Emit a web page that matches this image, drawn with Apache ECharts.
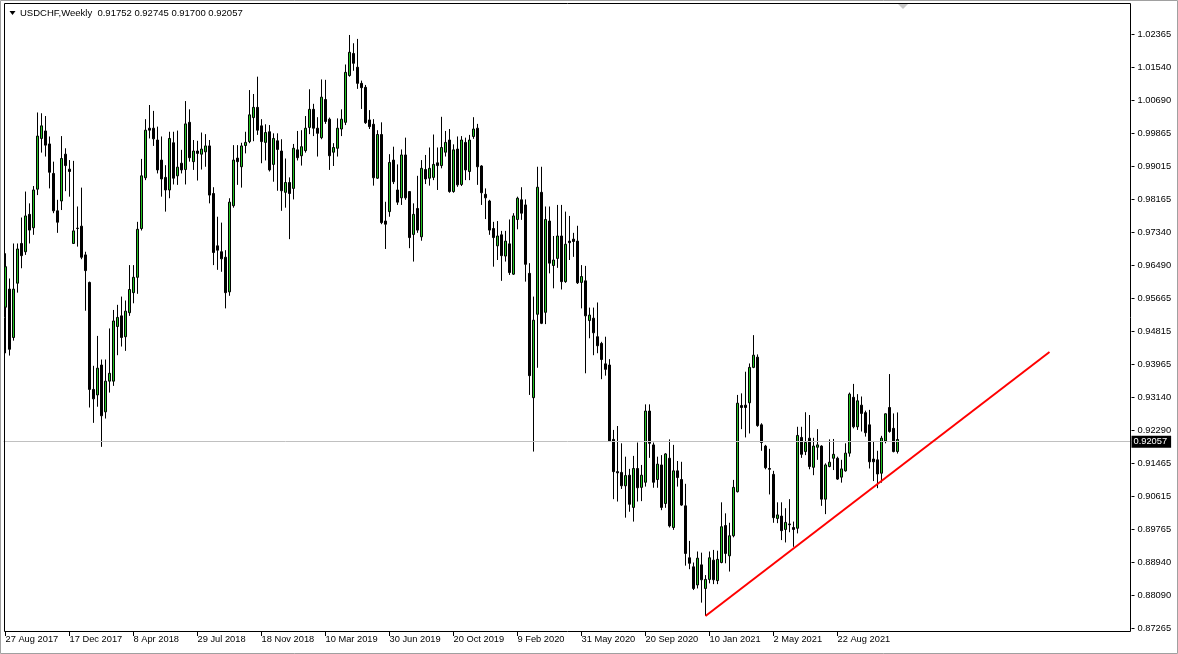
<!DOCTYPE html>
<html>
<head>
<meta charset="utf-8">
<script src="https://cdn.jsdelivr.net/npm/echarts@6/dist/echarts.min.js"></script>
<style>
html,body{margin:0;padding:0;background:#fff;}
#c{width:1178px;height:654px;}
</style>
</head>
<body>
<div id="c"></div>
<script>
// ---- data ----
const symbolName = 'USDCHF,Weekly';
const startDate = [2017, 7, 27]; // 27 Aug 2017, weekly bars
const totalSlots = 282;          // bars + empty future space
const opens = [
.9542,.9588,.9465,.9603,.9704,.9683,.9778,.9744,.9842,.9971,.9990,.9957,.9882,.9787,.9812,.9931,.9893,.9704,.9742,.9748,
.9675,.9605,.9333,.9319,.9395,.9276,.9354,.9354,.9493,.9520,.9467,.9528,.9579,.9618,.9742,.9871,.9997,.9997,.9967,.9916,
.9872,.9840,.9960,.9876,.9908,.9892,1.0012,.9912,.9939,.9931,.9937,.9952,.9831,.9698,.9683,.9669,.9581,.9800,.9921,.9899,
.9953,.9963,1.0024,1.0050,1.0003,.9961,.9988,.9905,.9965,.9939,.9834,.9859,.9844,.9942,.9927,.9940,.9999,1.0045,.9997,.9973,
1.0070,1.0020,.9936,.9946,.9995,1.0012,1.0131,1.0187,1.0152,1.0111,1.0101,1.0018,1.0007,.9870,.9981,.9761,.9785,.9916,.9840,.9820,
.9929,.9836,.9727,.9793,.9721,.9892,.9870,.9872,.9909,.9902,.9936,.9967,.9836,.9944,.9854,.9961,.9887,.9976,.9997,.9901,
.9829,.9812,.9742,.9698,.9726,.9672,.9703,.9626,.9765,.9815,.9802,.9628,.9312,.9524,.9834,.9529,.9761,.9648,.9666,.9723,
.9607,.9710,.9715,.9710,.9605,.9609,.9508,.9514,.9467,.9450,.9398,.9395,.9206,.9124,.9122,.9088,.9115,.9033,.9132,.9084,
.9097,.9278,.9192,.9104,.9141,.9043,.9158,.8982,.9126,.9104,.9037,.8905,.8882,.8836,.8887,.8827,.8850,.8899,.8847,.8893,
.8987,.8910,.8961,.9073,.9292,.9293,.9299,.9389,.9415,.9243,.9189,.9132,.9117,.9005,.9011,.8977,.8991,.8982,.8980,.9211,
.9175,.9209,.9135,.9186,.9189,.9054,.9137,.9158,.9158,.9110,.9126,.9171,.9313,.9238,.9293,.9274,.9243,.9156,.9154,.9120,
.9202,.9287,.9234,.91752];
const highs = [
.9679,.9615,.9704,.9704,.9770,.9836,.9806,.9850,1.0037,1.0035,1.0028,.9976,.9912,.9815,.9977,.9946,.9916,.9914,.9798,.9846,
.9683,.9607,.9393,.9469,.9409,.9409,.9488,.9535,.9548,.9569,.9559,.9649,.9649,.9759,.9919,1.0020,1.0056,1.0041,1.0001,.9976,
.9903,.9988,.9988,.9991,.9942,1.0066,1.0045,.9967,.9965,.9986,.9982,.9967,.9847,.9772,.9757,.9687,.9819,.9954,.9954,.9960,
.9988,1.0094,1.0084,1.0128,1.0020,1.0007,1.0005,.9984,.9984,.9969,.9920,.9872,.9957,.9990,.9992,1.0028,1.0096,1.0059,1.0025,1.0121,
1.0120,1.0024,.9959,1.0022,1.0045,1.0159,1.0234,1.0213,1.0224,1.0118,1.0107,1.0043,1.0020,.9992,1.0012,.9810,.9931,.9950,.9905,.9943,
.9973,.9837,.9806,.9876,.9916,.9929,.9948,.9981,.9948,1.0026,.9990,.9995,.9956,.9976,.9977,.9973,.9980,1.0025,1.0008,.9903,
.9844,.9815,.9759,.9761,.9736,.9736,.9765,.9781,.9823,.9847,.9816,.9654,.9569,.9899,.9899,.9798,.9798,.9723,.9802,.9802,
.9785,.9774,.9731,.9749,.9649,.9647,.9541,.9541,.9554,.9454,.9467,.9410,.9230,.9240,.9196,.9162,.9131,.9164,.9198,.9141,
.9295,.9295,.9198,.9162,.9166,.9171,.9206,.9192,.9151,.9149,.9093,.8948,.8893,.8921,.8918,.8861,.8921,.8925,.8923,.9046,
.9018,.8994,.9103,.9319,.9323,.9378,.9399,.9471,.9422,.9247,.9192,.9182,.9126,.9046,.9046,.9031,.9054,.8997,.9238,.9238,
.9275,.9268,.9210,.9232,.9191,.9145,.9206,.9207,.9162,.9154,.9196,.9325,.9347,.9321,.9315,.9279,.9281,.9202,.9177,.9215,
.9272,.9372,.9272,.92745];
const lows = [
.9425,.9419,.9457,.9579,.9641,.9675,.9704,.9726,.9827,.9935,.9925,.9844,.9781,.9731,.9789,.9837,.9823,.9703,.9696,.9664,
.9533,.9287,.9248,.9289,.9187,.9259,.9325,.9342,.9420,.9442,.9431,.9520,.9552,.9576,.9737,.9865,.9971,.9952,.9882,.9823,
.9785,.9819,.9854,.9853,.9882,.9854,.9912,.9891,.9864,.9892,.9899,.9806,.9649,.9637,.9632,.9539,.9571,.9795,.9853,.9846,
.9933,.9959,.9964,.9980,.9908,.9915,.9887,.9861,.9838,.9787,.9795,.9715,.9816,.9915,.9902,.9935,.9982,.9977,.9925,.9969,
1.0008,.9891,.9901,.9925,.9977,1.0005,1.0128,1.0143,1.0097,1.0046,1.0008,.9995,.9851,.9868,.9753,.9690,.9772,.9855,.9802,.9802,
.9815,.9692,.9658,.9731,.9711,.9855,.9851,.9865,.9840,.9895,.9925,.9833,.9833,.9848,.9850,.9865,.9865,.9970,.9853,.9802,
.9766,.9726,.9645,.9662,.9609,.9658,.9624,.9624,.9740,.9764,.9607,.9319,.9175,.9388,.9499,.9499,.9628,.9590,.9642,.9587,
.9604,.9662,.9670,.9601,.9539,.9374,.9463,.9420,.9425,.9359,.9368,.9200,.9054,.9048,.9080,.9007,.9022,.8997,.9048,.9049,
.9086,.9159,.9083,.9083,.9026,.9032,.8982,.8976,.9086,.9037,.8885,.8876,.8823,.8827,.8791,.8757,.8840,.8838,.8838,.8891,
.8891,.8870,.8957,.9071,.9232,.9211,.9221,.9387,.9238,.9177,.9130,.9066,.8994,.8993,.8950,.8944,.8970,.8933,.8967,.9159,
.9166,.9130,.9115,.9154,.9037,.9016,.9135,.9128,.9103,.9096,.9124,.9162,.9234,.9230,.9226,.9213,.9132,.9100,.9082,.9096,
.9196,.9223,.9173,.91700];
const closes = [
.9645,.9435,.9588,.9690,.9673,.9774,.9738,.9840,.9977,1.0003,.9954,.9885,.9787,.9758,.9920,.9902,.9887,.9736,.9743,.9669,
.9635,.9333,.9309,.9387,.9266,.9354,.9374,.9507,.9516,.9465,.9532,.9587,.9618,.9740,.9876,.9992,.9992,.9970,.9891,.9868,
.9840,.9971,.9870,.9898,.9891,1.0008,.9922,.9939,.9933,.9944,.9952,.9827,.9681,.9687,.9665,.9579,.9809,.9916,.9912,.9952,
.9961,1.0031,1.0050,.9992,.9963,.9986,.9891,.9971,.9943,.9838,.9859,.9831,.9946,.9922,.9950,.9997,1.0045,.9997,.9984,1.0076,
1.0014,.9927,.9948,.9997,1.0020,1.0139,1.0190,1.0162,1.0111,1.0100,1.0011,1.0001,.9871,.9981,.9757,.9753,.9910,.9861,.9809,.9929,
.9820,.9719,.9778,.9738,.9895,.9868,.9895,.9905,.9902,.9948,.9961,.9836,.9942,.9853,.9967,.9891,.9967,.9995,.9899,.9833,
.9820,.9738,.9719,.9723,.9673,.9710,.9630,.9774,.9819,.9781,.9651,.9368,.9509,.9847,.9501,.9765,.9654,.9662,.9723,.9607,
.9702,.9706,.9709,.9604,.9620,.9520,.9522,.9477,.9444,.9409,.9384,.9202,.9124,.9121,.9088,.9114,.9041,.9132,.9083,.9115,
.9278,.9196,.9097,.9143,.9033,.9169,.8986,.9126,.9109,.9039,.8916,.8891,.8827,.8904,.8849,.8850,.8905,.8849,.8901,.8984,
.8916,.8961,.9084,.9298,.9287,.9287,.9389,.9420,.9241,.9198,.9134,.9130,.9007,.9014,.8974,.8995,.8989,.8977,.9216,.9168,
.9198,.9137,.9189,.9192,.9054,.9141,.9148,.9168,.9105,.9131,.9171,.9321,.9238,.9304,.9272,.9223,.9149,.9149,.9118,.9209,
.9271,.9226,.9175,.92057];
const yTicks = ['0.87265','0.88090','0.88940','0.89765','0.90615','0.91465','0.92290','0.93140','0.93965','0.94815',
  '0.95665','0.96490','0.97340','0.98165','0.99015','0.99865','1.00690','1.01540','1.02365'];
const trendIdx = [175, 261];
const trendVal = [0.8757, 0.9428];

// ---- build ----
const MON = ['Jan','Feb','Mar','Apr','May','Jun','Jul','Aug','Sep','Oct','Nov','Dec'];
const t0 = Date.UTC(startDate[0], startDate[1], startDate[2]);
const dates = [];
for (let i = 0; i < totalSlots; i++) {
  const d = new Date(t0 + i * 7 * 86400000);
  dates.push(d.getUTCDate() + ' ' + MON[d.getUTCMonth()] + ' ' + d.getUTCFullYear());
}
const nBars = opens.length;
const candles = opens.map((o, i) => [o, closes[i], lows[i], highs[i]]);
const last = nBars - 1;
const fmt = v => v.toFixed(5);
const header = symbolName + '  ' + fmt(opens[last]) + ' ' + fmt(highs[last]) + ' ' + fmt(lows[last]) + ' ' + fmt(closes[last]);

const yMin = parseFloat(yTicks[0]);
const yStep = (parseFloat(yTicks[yTicks.length - 1]) - yMin) / (yTicks.length - 1);
const pxPrice = yStep / 33;           // price per pixel
const yMax = yMin + 624 * pxPrice;

const FONT = '"Liberation Sans", Arial, sans-serif';
const labelEvery = (i) => i % 16 === 0 && i < nBars;

const chart = echarts.init(document.getElementById('c'), null, {renderer: 'canvas'});
chart.setOption({
  animation: false,
  backgroundColor: '#ffffff',
  grid: {left: 3.5, right: 46.5, top: 4, bottom: 26, containLabel: false},
  xAxis: {
    type: 'category',
    data: dates,
    boundaryGap: true,
    offset: 4,
    axisLine: {show: false},
    axisTick: {show: true, alignWithLabel: true, interval: labelEvery, length: 4, lineStyle: {color: '#000'}},
    axisLabel: {interval: labelEvery, align: 'left', margin: 3, fontSize: 9.3, fontFamily: FONT, color: '#000'},
    splitLine: {show: false}
  },
  yAxis: {
    type: 'value',
    position: 'right',
    min: yMin,
    max: yMax,
    interval: yStep,
    axisLine: {show: false},
    axisTick: {show: true, length: 3, lineStyle: {color: '#000'}},
    axisLabel: {
      margin: 6, fontSize: 9.3, fontFamily: FONT, color: '#000', showMaxLabel: false,
      formatter: (v) => {
        const k = Math.round((v - yMin) / yStep);
        return (k >= 0 && k < yTicks.length && Math.abs(v - (yMin + k * yStep)) < 1e-7) ? yTicks[k] : '';
      }
    },
    splitLine: {show: false}
  },
  series: [
    {
      type: 'line',
      data: [],
      z: 1,
      silent: true,
      markLine: {
        silent: true,
        symbol: ['none', 'none'],
        lineStyle: {color: '#c0c0c0', type: 'solid', width: 1},
        label: {
          show: true, position: 'end', distance: 0,
          formatter: () => fmt(closes[last]),
          backgroundColor: '#000', color: '#fff', padding: [2, 4, 1, 2],
          fontSize: 9.3, fontFamily: FONT
        },
        data: [{yAxis: closes[last]}]
      }
    },
    {
      type: 'candlestick',
      data: candles,
      z: 2,
      barWidth: 2,
      silent: true,
      itemStyle: {color: '#22c322', color0: '#000000', borderColor: '#000000', borderColor0: '#000000', borderWidth: 1}
    },
    {
      type: 'line',
      data: trendIdx.map((x, i) => [x, trendVal[i]]),
      symbol: 'none',
      silent: true,
      z: 5,
      clip: false,
      lineStyle: {color: '#ff0000', width: 2}
    }
  ],
  graphic: [
    {type: 'rect', silent: true, z: 100, shape: {x: 0.5, y: 0.5, width: 1177, height: 653}, style: {fill: 'none', stroke: '#a0a0a0', lineWidth: 1}},
    {type: 'rect', silent: true, z: 100, shape: {x: 4.5, y: 3.5, width: 1126, height: 628}, style: {fill: 'none', stroke: '#000', lineWidth: 1}},
    {type: 'polygon', silent: true, z: 100, shape: {points: [[9.5, 11], [15.5, 11], [12.5, 15]]}, style: {fill: '#000'}},
    {type: 'polygon', silent: true, z: 100, shape: {points: [[898, 4], [908, 4], [903, 9]]}, style: {fill: '#c8c8c8'}},
    {type: 'text', silent: true, z: 100, left: 20, top: 8, style: {text: header, font: '9.5px ' + FONT, fill: '#000'}}
  ]
});
</script>
</body>
</html>
